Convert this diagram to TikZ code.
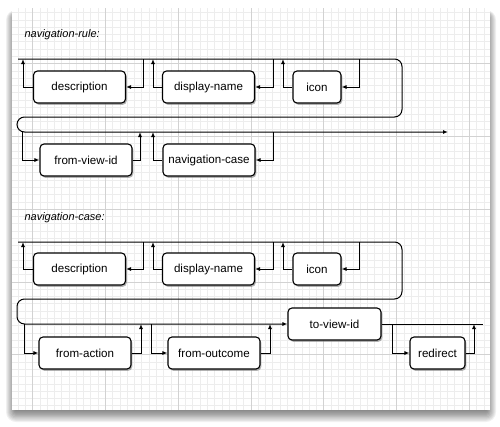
\documentclass[tikz,border=0pt]{standalone}
\usepackage{fontspec}
\setmainfont{Liberation Sans}
\usetikzlibrary{arrows.meta,shadows}

\begin{document}
\begin{tikzpicture}[x=1pt, y=-1pt,
    box/.style={draw, line width=1.1pt, rounded corners=4pt, fill=white, minimum width=92pt, minimum height=32pt, inner sep=0pt,
        font=\fontsize{11.6}{13}\selectfont, drop shadow={shadow xshift=1.3pt, shadow yshift=-1.8pt, opacity=0.6}},
    rail/.style={line width=1pt, rounded corners=7.5pt},
    flow/.style={line width=1pt, ->},
    title/.style={anchor=west, font=\fontsize{11}{13}\selectfont\itshape},
    gridminor/.style={gray!14, line width=0.5pt},
    gridmajor/.style={gray!35, line width=0.6pt},
    >={Latex[length=5pt,width=4pt]}
]
\useasboundingbox (0,0) rectangle (500,426);

% paper with shadow
\foreach \i in {1,...,10}
  \fill[black, opacity=0.06, rounded corners=\i pt] ({16-\i},{16-\i*0.6}) rectangle ({486+\i},{410+\i*1.2});
\fill[white] (12,8) rectangle (490,410);
\begin{scope}
  \clip (12,8) rectangle (490,410);
  \foreach \i in {-2,...,62}
    \draw[gridminor] ({32.5+\i*7.28},8) -- ({32.5+\i*7.28},410);
  \foreach \i in {-7,...,47}
    \draw[gridminor] (12,{63.5+\i*7.28}) -- (490,{63.5+\i*7.28});
  \foreach \i in {0,...,6}
    \draw[gridmajor] ({32.5+\i*72.8},8) -- ({32.5+\i*72.8},410);
  \foreach \i in {0,...,4}
    \draw[gridmajor] (12,{63.5+\i*72.8}) -- (490,{63.5+\i*72.8});
\end{scope}

% navigation-rule
\node[title] (rule) at (21,35) {navigation-rule:};
\node[box] (desc1) at (79.5,87) {description};
\node[box] (disp1) at (208.5,87) {display-name};
\node[box, minimum width=48pt] (icon1) at (317,87) {icon};
\node[box] (fromview) at (86,160) {from-view-id};
\node[box] (navcase) at (209,160) {navigation-case};

\coordinate (in1) at (18,59);
\coordinate (out1) at (448,132);
\draw[rail, ->] (in1) -- (402,59) -- (402,117) -- (17,117) -- (17,132) -- (out1);

\coordinate (u1) at (23,59);
\coordinate (d1) at (143,59);
\coordinate (u2) at (153,59);
\coordinate (d2) at (273,59);
\coordinate (u3) at (283,59);
\coordinate (d3) at (359,59);
\draw[flow] (d1) |- (desc1.east);
\draw[flow] (desc1.west) -| (u1);
\draw[flow] (d2) |- (disp1.east);
\draw[flow] (disp1.west) -| (u2);
\draw[flow] (d3) |- (icon1.east);
\draw[flow] (icon1.west) -| (u3);

\coordinate (d4) at (22,132);
\coordinate (u4) at (140,132);
\coordinate (u5) at (153,132);
\coordinate (d5) at (273,132);
\draw[flow] (d4) |- (fromview.west);
\draw[flow] (fromview.east) -| (u4);
\draw[flow] (d5) |- (navcase.east);
\draw[flow] (navcase.west) -| (u5);

% navigation-case
\node[title] (case) at (21,218) {navigation-case:};
\node[box] (desc2) at (79.5,269) {description};
\node[box] (disp2) at (208.5,269) {display-name};
\node[box, minimum width=48pt] (icon2) at (317,269) {icon};
\node[box] (fromaction) at (85,353) {from-action};
\node[box] (fromoutcome) at (214,353) {from-outcome};
\node[box, minimum width=93pt] (toview) at (334.5,324) {to-view-id};
\node[box, minimum width=55pt] (redirect) at (437.5,353) {redirect};

\coordinate (in2) at (18,242);
\coordinate (out2) at (483,324);
\draw[rail, ->] (in2) -- (402,242) -- (402,299) -- (17,299) -- (17,324) -- (toview.west);
\draw[rail] (toview.east) -- (out2);

\coordinate (u6) at (23,242);
\coordinate (d6) at (143,242);
\coordinate (u7) at (153,242);
\coordinate (d7) at (273,242);
\coordinate (u8) at (283,242);
\coordinate (d8) at (359,242);
\draw[flow] (d6) |- (desc2.east);
\draw[flow] (desc2.west) -| (u6);
\draw[flow] (d7) |- (disp2.east);
\draw[flow] (disp2.west) -| (u7);
\draw[flow] (d8) |- (icon2.east);
\draw[flow] (icon2.west) -| (u8);

\coordinate (d9) at (24,324);
\coordinate (u9) at (141,324);
\coordinate (d10) at (151,324);
\coordinate (u10) at (270,324);
\coordinate (d11) at (392,324);
\coordinate (u11) at (474,324);
\draw[flow] (d9) |- (fromaction.west);
\draw[flow] (fromaction.east) -| (u9);
\draw[flow] (d10) |- (fromoutcome.west);
\draw[flow] (fromoutcome.east) -| (u10);
\draw[flow] (d11) |- (redirect.west);
\draw[flow] (redirect.east) -| (u11);
\end{tikzpicture}
\end{document}
